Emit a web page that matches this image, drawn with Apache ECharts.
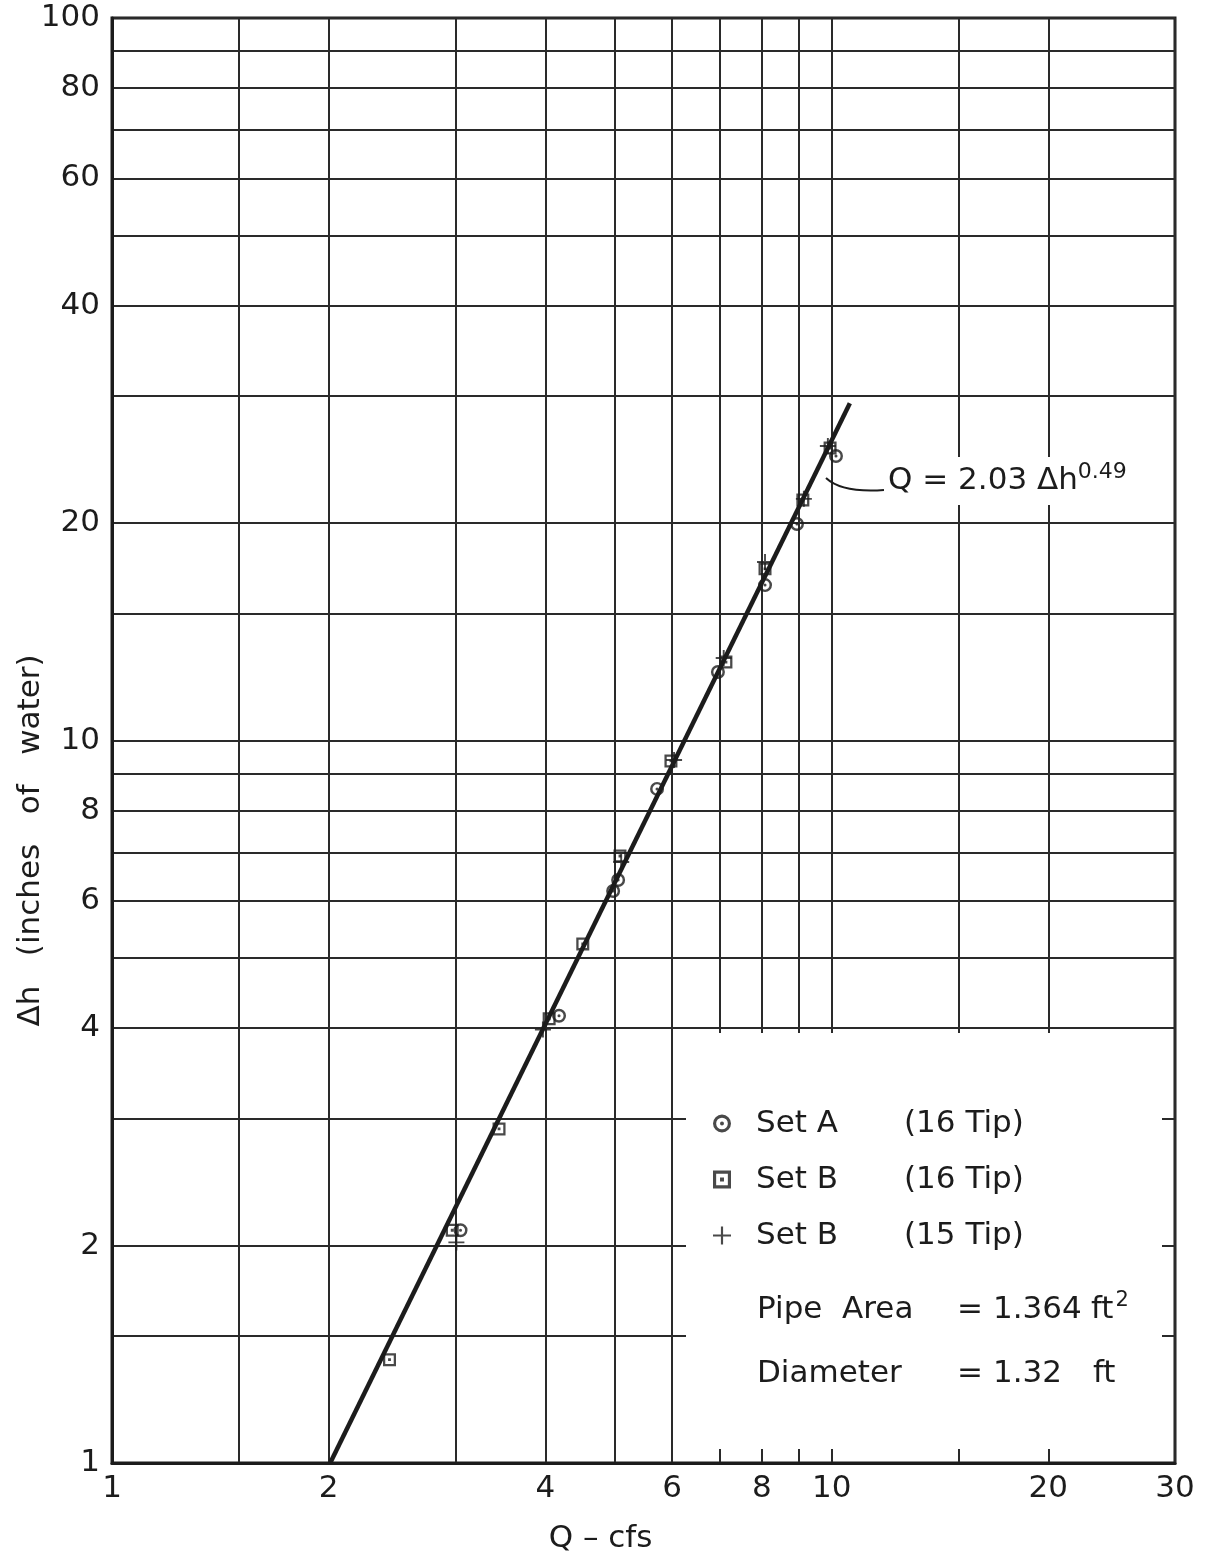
<!DOCTYPE html>
<html>
<head>
<meta charset="utf-8">
<script src="https://cdn.jsdelivr.net/npm/echarts@6/dist/echarts.min.js"></script>
<style>
body{margin:0;background:#fff}
#main{width:1209px;height:1563px}
</style>
</head>
<body>
<div id="main"></div>
<script>
// grid lines and tick labels of the log-log paper
var gridX = [1, 1.5, 2, 3, 4, 5, 6, 7, 8, 9, 10, 15, 20, 30];
var gridY = [1, 1.5, 2, 3, 4, 5, 6, 7, 8, 9, 10, 15, 20, 30, 40, 50, 60, 70, 80, 90, 100];
var labelX = [1, 2, 4, 6, 8, 10, 20, 30];
var labelY = [1, 2, 4, 6, 8, 10, 20, 40, 60, 80, 100];

// Set A (16 tip) - circles
var aQ  = [3.05, 4.18, 4.97, 5.05, 5.72, 6.95, 8.08, 8.95, 10.14];
var aDh = [2.10, 4.16, 6.19, 6.41, 8.57, 12.44, 16.41, 19.94, 24.76];
// Set B (16 tip) - squares
var bQ  = [2.43, 2.97, 3.45, 4.05, 4.51, 5.08, 5.98, 7.13, 8.08, 9.12, 9.95];
var bDh = [1.39, 2.10, 2.90, 4.12, 5.23, 6.92, 9.37, 12.84, 17.28, 21.52, 25.4];
// Set B (15 tip) - crosses
var cQ  = [3.01, 3.97, 5.10, 6.04, 7.08, 8.08, 9.15, 9.88];
var cDh = [2.02, 3.98, 6.79, 9.40, 13.01, 17.66, 21.6, 25.56];
// fitted line Q = 2.03 dh^0.49, end points
var fitQ  = [2.01, 10.6];
var fitDh = [1, 29.3];

var ink = '#1c1c1c';
var font = 'DejaVu Sans';

var ringIcon = 'path://M10,0A10,10 0 1,1 10,20A10,10 0 1,1 10,0ZM10,3.5A6.5,6.5 0 1,0 10,16.5A6.5,6.5 0 1,0 10,3.5ZM10,7.8A2.2,2.2 0 1,1 10,12.2A2.2,2.2 0 1,1 10,7.8Z';
var boxIcon = 'path://M0,0H20V20H0ZM3.5,3.5V16.5H16.5V3.5ZM7.8,7.8H12.2V12.2H7.8Z';
var plusIcon = 'path://M8.8,0H11.2V8.8H20V11.2H11.2V20H8.8V11.2H0V8.8H8.8Z';

function pairs(xs, ys) {
    return xs.map(function (x, i) { return [x, ys[i]]; });
}

var chart = echarts.init(document.getElementById('main'));
option = {
    backgroundColor: '#fff',
    textStyle: { fontFamily: font, color: ink },
    grid: {
        left: 112, right: 34, top: 18, bottom: 100,
        outerBoundsMode: 'none', containLabel: false,
        show: true, borderColor: ink, borderWidth: 3, backgroundColor: '#fff'
    },
    xAxis: {
        type: 'log', logBase: 10, min: 1, max: 30,
        name: 'Q – cfs', nameLocation: 'middle', nameGap: 60, nameMoveOverlap: false,
        nameTextStyle: { fontSize: 31, color: ink, padding: [0, 86, 0, 0] },
        axisLine: { show: true, lineStyle: { color: ink, width: 3 } },
        axisTick: { show: false, customValues: gridX },
        axisLabel: { customValues: labelX, fontSize: 31, color: ink, margin: 10 },
        splitLine: { show: true, lineStyle: { color: '#2a2a2a', width: 2 } }
    },
    yAxis: {
        type: 'log', logBase: 10, min: 1, max: 100,
        name: 'Δh   (inches   of   water)', nameLocation: 'middle', nameGap: 66, nameMoveOverlap: false,
        nameTextStyle: { fontSize: 31, color: ink, padding: [0, 200, 0, 0] },
        axisLine: { show: true, lineStyle: { color: ink, width: 3 } },
        axisTick: { show: false, customValues: gridY },
        axisLabel: { customValues: labelY, fontSize: 31, color: ink, margin: 12 },
        splitLine: { show: true, lineStyle: { color: '#2a2a2a', width: 2 } }
    },
    legend: {
        orient: 'vertical', left: 708, top: 1103, itemGap: 25,
        itemWidth: 18, itemHeight: 18,
        data: [
            { name: 'Set A (16 Tip)', icon: ringIcon },
            { name: 'Set B (16 Tip)', icon: boxIcon },
            { name: 'Set B (15 Tip)', icon: plusIcon }
        ],
        formatter: function (name) {
            var p = name.split(' (');
            return '{s|}{a|' + p[0] + '}{b|(' + p[1] + '}';
        },
        textStyle: {
            color: ink, fontFamily: font, fontSize: 31,
            rich: {
                s: { width: 20 },
                a: { width: 148, fontSize: 31, fontFamily: font, color: ink },
                b: { fontSize: 31, fontFamily: font, color: ink }
            }
        },
        z: 6
    },
    graphic: [
        {
            type: 'rect', z: 3,
            shape: { x: 686, y: 1033, width: 476, height: 416 },
            style: { fill: '#fff' }
        },
        {
            type: 'text', z: 6, left: 757, top: 1290,
            style: {
                text: '{t|Pipe  Area}{e|=}{v|1.364}{u|ft}{p|2}',
                rich: {
                    t: { width: 200, fontSize: 31, fontFamily: font, fill: ink },
                    e: { width: 36, fontSize: 31, fontFamily: font, fill: ink },
                    v: { width: 98, fontSize: 31, fontFamily: font, fill: ink },
                    u: { fontSize: 31, fontFamily: font, fill: ink },
                    p: { fontSize: 21, fontFamily: font, fill: ink, padding: [0, 0, 18, 2] }
                }
            }
        },
        {
            type: 'text', z: 6, left: 757, top: 1358,
            style: {
                text: '{t|Diameter}{e|=}{v|1.32}{u|ft}',
                rich: {
                    t: { width: 200, fontSize: 31, fontFamily: font, fill: ink },
                    e: { width: 36, fontSize: 31, fontFamily: font, fill: ink },
                    v: { width: 100, fontSize: 31, fontFamily: font, fill: ink },
                    u: { fontSize: 31, fontFamily: font, fill: ink }
                }
            }
        },
        {
            type: 'bezierCurve', z: 5,
            shape: { x1: 884, y1: 490, cpx1: 842, cpy1: 493, x2: 826, y2: 478 },
            style: { stroke: ink, lineWidth: 2, fill: null }
        },
        {
            type: 'text', z: 6, left: 884, top: 457,
            style: {
                text: '{q|Q = 2.03 Δh}{p|0.49}',
                backgroundColor: '#fff', padding: [4, 4],
                rich: {
                    q: { fontSize: 31, fontFamily: font, fill: ink },
                    p: { fontSize: 22, fontFamily: font, fill: ink, padding: [0, 0, 18, 0] }
                }
            }
        }
    ],
    series: [
        {
            name: 'fit', type: 'line', data: pairs(fitQ, fitDh),
            symbol: 'none', silent: true,
            lineStyle: { color: ink, width: 4.5 }, z: 2
        },
        {
            name: 'Set A (16 Tip)', type: 'scatter', data: pairs(aQ, aDh),
            symbol: ringIcon, symbolSize: 14,
            itemStyle: { color: ink }, z: 4
        },
        {
            name: 'Set B (16 Tip)', type: 'scatter', data: pairs(bQ, bDh),
            symbol: boxIcon, symbolSize: 13,
            itemStyle: { color: ink }, z: 4
        },
        {
            name: 'Set B (15 Tip)', type: 'scatter', data: pairs(cQ, cDh),
            symbol: plusIcon, symbolSize: 16,
            itemStyle: { color: ink }, z: 4
        }
    ]
};
chart.setOption(option);
</script>
</body>
</html>
